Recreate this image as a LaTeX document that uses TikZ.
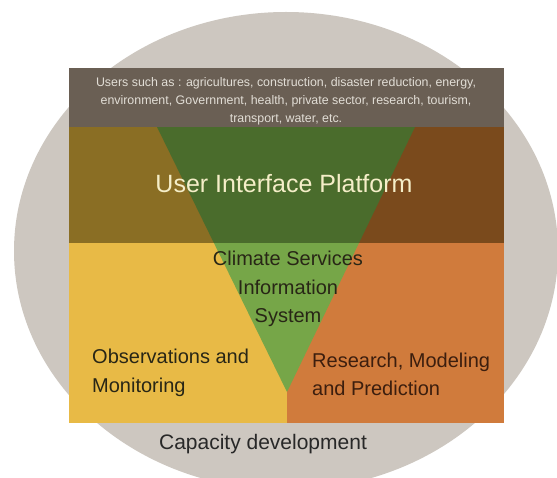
\documentclass[tikz,border=0pt]{standalone}
\usepackage{fontspec}
\setmainfont{Liberation Sans}
\definecolor{circgray}{RGB}{205,199,192}
\definecolor{bandbrown}{RGB}{106,95,84}
\definecolor{olive}{RGB}{138,110,36}
\definecolor{darkgreen}{RGB}{74,108,44}
\definecolor{darkbrown}{RGB}{122,74,28}
\definecolor{yellowfill}{RGB}{232,186,70}
\definecolor{lightgreen}{RGB}{118,166,72}
\definecolor{orangefill}{RGB}{208,123,60}
\definecolor{usertext}{RGB}{226,222,214}
\definecolor{uipcream}{RGB}{245,238,200}
\definecolor{darktext}{RGB}{40,38,22}
\definecolor{browntext}{RGB}{60,30,14}
\definecolor{captext}{RGB}{40,40,40}
\begin{document}
\begin{tikzpicture}[x=1pt,y=-1pt,
  lbl/.style={inner sep=0pt, align=center},
  lbll/.style={inner sep=0pt, align=left}]
\useasboundingbox (0,0) rectangle (557,478);
\clip (0,0) rectangle (557,478);
\fill[white] (0,0) rectangle (557,478);
% capacity development disc
\fill[circgray] (286,251) ellipse [x radius=272, y radius=239];
% top band
\fill[bandbrown] (69,68) rectangle (504,127);
% upper row
\fill[olive] (69,127) rectangle (287,243);
\fill[darkbrown] (287,127) rectangle (504,243);
% lower row
\fill[yellowfill] (69,243) rectangle (287,423);
\fill[orangefill] (287,243) rectangle (504,423);
% triangle
\begin{scope}
\clip (157,127) -- (415,127) -- (287,392) -- cycle;
\fill[darkgreen] (69,127) rectangle (504,243);
\fill[lightgreen] (69,243) rectangle (504,423);
\end{scope}
% texts
\node[lbl, text=usertext, font=\fontsize{12.4}{18}\selectfont] (users) at (286,101)
  {Users such as : agricultures, construction, disaster reduction, energy,\\
   environment, Government, health, private sector, research, tourism,\\
   transport, water, etc.};
\node[lbl, text=uipcream, font=\fontsize{25}{30}\selectfont] (uip) at (284,184) {User Interface Platform};
\node[lbl, text=darktext, font=\fontsize{20}{28.5}\selectfont] (csis) at (288,289)
  {Climate Services\\Information\\System};
\node[lbll, text=darktext, font=\fontsize{20}{29}\selectfont, anchor=west] (obs) at (92,373)
  {Observations and\\Monitoring};
\node[lbll, text=browntext, font=\fontsize{20}{28}\selectfont, anchor=west] (res) at (312,374)
  {Research, Modeling\\and Prediction};
\node[lbl, text=captext, font=\fontsize{21}{25}\selectfont] (cap) at (263,444) {Capacity development};
\end{tikzpicture}
\end{document}
